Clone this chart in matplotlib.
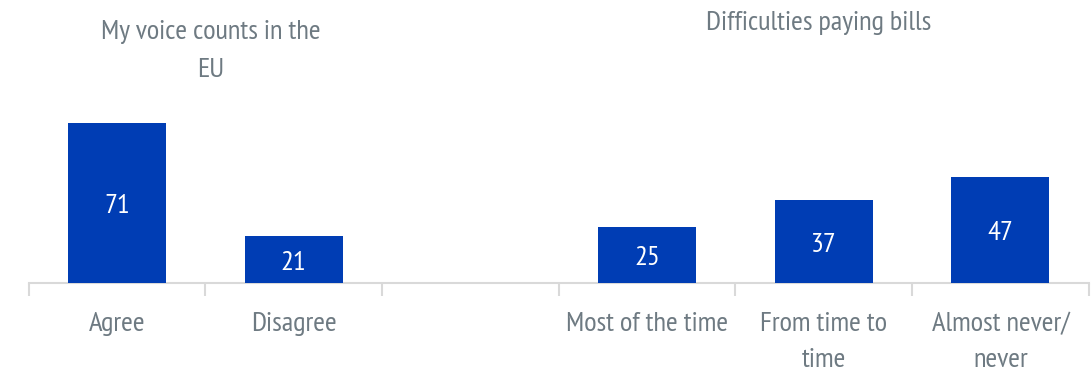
import matplotlib.pyplot as plt
from matplotlib import font_manager

# data
categories = ['Agree', 'Disagree', '', 'Most of the time', 'From time to\ntime', 'Almost never/\nnever']
values = [71, 21, None, 25, 37, 47]
group_titles = ['My voice counts in the\nEU', 'Difficulties paying bills']

names = {f.name for f in font_manager.fontManager.ttflist}
font = 'DejaVu Sans'
for cand in ['PT Sans Narrow', 'Archivo Narrow', 'Roboto Condensed']:
    if cand in names:
        font = cand
        break
plt.rcParams['font.family'] = [font, 'DejaVu Sans']

bar_color = '#003DB4'
text_color = '#6E7A82'
grid_color = '#D9D9D9'
fs = 20.5

W, H = 1092, 373
fig = plt.figure(figsize=(W / 100, H / 100), dpi=100)
ax = fig.add_axes([0.0262, 0.2413, 0.9708, 0.7587])

xs = [i for i, v in enumerate(values) if v is not None]
vs = [v for v in values if v is not None]
ax.bar(xs, vs, width=0.555, color=bar_color, zorder=3)

for x, v in zip(xs, vs):
    ax.annotate(str(v), (x, v / 2), xytext=(0, -2.5), textcoords='offset points',
                ha='center', va='center', color='white', fontsize=fs)

ax.set_xlim(-0.5, len(categories) - 0.5)
ax.set_ylim(0, 125.5)

for s in ['top', 'right', 'left']:
    ax.spines[s].set_visible(False)
ax.spines['bottom'].set_color(grid_color)
ax.spines['bottom'].set_linewidth(1.5)
ax.set_yticks([])

# tick marks at category boundaries
ax.set_xticks([i - 0.5 for i in range(len(categories) + 1)])
ax.set_xticklabels([])
ax.tick_params(axis='x', length=9, width=1.5, color=grid_color)

# text placed by pixel row from the top of the figure
trans = ax.get_xaxis_transform()
def row(px):
    return (1 - px / H - 0.2413) / 0.7587

for i, c in enumerate(categories):
    if c:
        ax.text(i, row(312), c, transform=trans, ha='center', va='top',
                color=text_color, fontsize=fs, linespacing=1.65)

ax.text(0.53, row(20), group_titles[0], transform=trans, ha='center', va='top',
        color=text_color, fontsize=fs, linespacing=1.75)
ax.text(3.97, row(11), group_titles[1], transform=trans, ha='center', va='top',
        color=text_color, fontsize=fs)

fig.savefig('out.png', dpi=100)
